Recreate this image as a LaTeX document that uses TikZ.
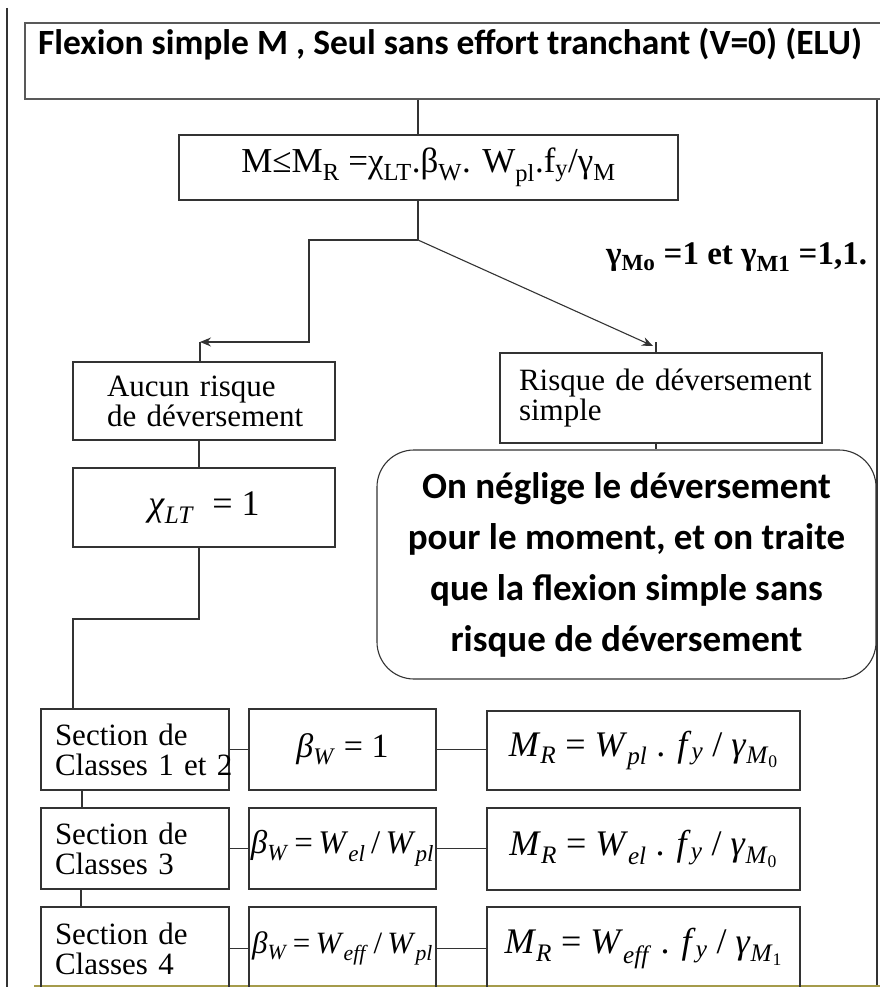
\documentclass[tikz,border=0pt]{standalone}
\usepackage{fontspec}
\setmainfont{Liberation Serif}
\newfontfamily\calib{Carlito}
\usepackage{xcolor}
\usetikzlibrary{arrows.meta,positioning}
\definecolor{slideolive}{RGB}{165,155,75}
\newcommand{\idx}[1]{\textsubscript{#1}}

\begin{document}
\begin{tikzpicture}[x=1pt, y=-1pt,
    box/.style={draw=black!80, line width=1.1pt, inner sep=0pt, font=\fontsize{31}{30}\selectfont},
    textbox/.style={box, align=left},
    eqbox/.style={box, font=\fontsize{36}{36}\selectfont},
    betabox/.style={box, font=\fontsize{33}{33}\selectfont},
    titlebox/.style={draw=black!65, line width=1.3pt, inner sep=0pt},
    titletxt/.style={inner sep=0pt, font=\calib\bfseries\fontsize{35.5}{35.5}\selectfont},
    gammatxt/.style={inner sep=0pt, font=\bfseries\fontsize{33}{33}\selectfont},
    roundbox/.style={draw=black!80, line width=1.1pt, rounded corners=37pt, align=center,
        font=\calib\bfseries\fontsize{37}{51}\selectfont},
    link/.style={draw=black!80, line width=1.1pt},
    arr/.style={link, -{Stealth[length=11pt,width=9pt]}}
]
    \clip (0,0) rectangle (880,987);

    % --- Frame ---
    \draw[link] (7,8) -- (7,987);
    \draw[link] (877,99) -- (877,987);
    \draw[slideolive, line width=2.5pt] (34,986) -- (880,986);

    % --- Top ---
    \node[titlebox, minimum width=870pt, minimum height=76pt] (title) at (460,61) {};
    \node[titletxt] (titletext) at (450,44) {Flexion simple M , Seul sans effort tranchant (V=0) (ELU)};
    \node[box, minimum width=499pt, minimum height=65pt, font=\fontsize{35}{35}\selectfont] (formula) at (428.5,167.5)
        {M≤M\idx{R} =χ\idx{LT}.β\idx{W}. W\idx{pl}.f\idx{y}/γ\idx{M}};
    \node[gammatxt, anchor=west] (gammas) at (606,257) {γ\idx{Mo} =1 et γ\idx{M1} =1,1.};

    % --- Branches ---
    \node[textbox, text width=194pt, inner xsep=34pt, minimum height=78pt] (aucun) at (204,401)
        {\mbox{Aucun risque}\\\mbox{de déversement}};
    \node[textbox, text width=284pt, inner xsep=19pt, minimum height=90pt] (risque) at (661,398)
        {\mbox{Risque de déversement}\\simple};
    \node[box, minimum width=262pt, minimum height=79pt, font=\fontsize{36}{36}\selectfont] (chi) at (204,507.5)
        {\textit{χ}\idx{\textit{LT}}\enspace = 1};
    \node[roundbox, minimum width=499pt, minimum height=229pt] (neglige) at (626.5,564.5)
        {On néglige le déversement\\pour le moment, et on traite\\que la flexion simple sans\\risque de déversement};

    % --- Classes ---
    \node[textbox, text width=160pt, inner xsep=14pt, minimum height=81pt] (secA) at (135,749.5)
        {Section de\\\mbox{Classes 1 et 2}};
    \node[betabox, minimum width=187pt, minimum height=81pt, font=\fontsize{34}{34}\selectfont] (betaA) at (342.5,749.5)
        {\textit{β}\idx{\textit{W}} = 1};
    \node[eqbox, minimum width=313pt, minimum height=79pt] (momA) at (643.5,750.5)
        {\textit{M}\idx{\textit{R}} = \textit{W}\idx{\textit{pl}} . \textit{f}\idx{\textit{y}} / \textit{γ}\idx{\textit{M}\idx{0}}};

    \node[textbox, text width=160pt, inner xsep=14pt, minimum height=81pt] (secB) at (135,848.5)
        {Section de\\Classes 3};
    \node[betabox, minimum width=187pt, minimum height=81pt] (betaB) at (342.5,848.5)
        {\textit{β}\idx{\textit{W}}\,=\,\textit{W}\idx{\textit{el}}\,/\,\textit{W}\idx{\textit{pl}}};
    \node[eqbox, minimum width=313pt, minimum height=82pt] (momB) at (643.5,849)
        {\textit{M}\idx{\textit{R}} = \textit{W}\idx{\textit{el}} . \textit{f}\idx{\textit{y}} / \textit{γ}\idx{\textit{M}\idx{0}}};

    \node[textbox, text width=160pt, inner xsep=14pt, minimum height=83pt] (secC) at (135,948.5)
        {Section de\\Classes 4};
    \node[betabox, minimum width=187pt, minimum height=83pt, font=\fontsize{31}{31}\selectfont] (betaC) at (342.5,948.5)
        {\textit{β}\idx{\textit{W}}\,=\,\textit{W}\idx{\textit{eff}}\,/\,\textit{W}\idx{\textit{pl}}};
    \node[eqbox, minimum width=313pt, minimum height=83pt] (momC) at (643.5,948.5)
        {\textit{M}\idx{\textit{R}} = \textit{W}\idx{\textit{eff}} . \textit{f}\idx{\textit{y}} / \textit{γ}\idx{\textit{M}\idx{1}}};

    % --- Connectors ---
    \coordinate (jn) at (418,240);
    \coordinate (kneeA) at (309,240);
    \coordinate (kneeB) at (309,342);
    \coordinate (tipL) at (200,342);
    \coordinate (tipR) at (653,346);
    \coordinate (tickR) at (656,342);
    \coordinate (kneeC) at (199,619);
    \coordinate (kneeD) at (73,619);
    \coordinate (colA) at (82,0);
    \coordinate (colB) at (81,0);

    \draw[link] (title.south -| jn) -- (formula.north -| jn);
    \draw[link] (formula.south -| jn) -- (jn);
    \draw[arr] (jn) -- (kneeA) -- (kneeB) -- (tipL);
    \draw[link] (tipL) -- (aucun.north -| tipL);
    \draw[arr] (jn) -- (tipR);
    \draw[link] (tickR) -- (risque.north -| tickR);
    \draw[link] (risque.south -| tickR) -- (neglige.north -| tickR);
    \draw[link] (aucun.south -| kneeC) -- (chi.north -| kneeC);
    \draw[link] (chi.south -| kneeC) -- (kneeC) -- (kneeD) -- (secA.north -| kneeD);
    \draw[link] (secA.south -| colA) -- (secB.north -| colA);
    \draw[link] (secB.south -| colB) -- (secC.north -| colB);

    \draw[link] (secA.east) -- (betaA.west);
    \draw[link] (betaA.east) -- (betaA.east -| momA.west);
    \draw[link] (secB.east) -- (betaB.west);
    \draw[link] (betaB.east) -- (betaB.east -| momB.west);
    \draw[link] (secC.east) -- (betaC.west);
    \draw[link] (betaC.east) -- (betaC.east -| momC.west);

\end{tikzpicture}
\end{document}
